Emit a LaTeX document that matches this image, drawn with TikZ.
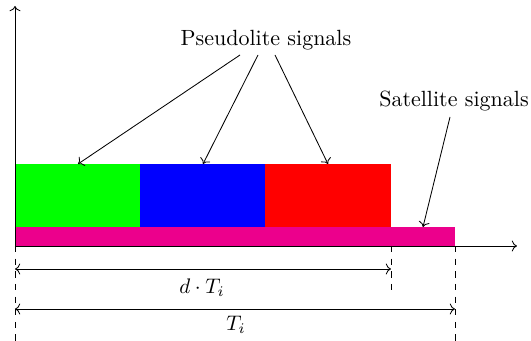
\documentclass[tikz,border=0pt]{standalone}
\usetikzlibrary{arrows.meta}
\definecolor{sigmag}{RGB}{236,0,140}
\definecolor{siggreen}{RGB}{0,255,0}
\definecolor{sigblue}{RGB}{0,0,255}
\definecolor{sigred}{RGB}{255,0,0}
\begin{document}
\begin{tikzpicture}[x=0.475pt,y=-0.475pt,
  blockbox/.style={anchor=north west,inner sep=0pt,outer sep=0pt,draw=none},
  lbl/.style={inner sep=1pt,font=\fontsize{10.45}{12.5}\selectfont},
  pointer/.style={-To,thin},
  dimline/.style={To-To,thin},
  guide/.style={dashed,thin}]
\useasboundingbox (0,0) rectangle (531,341);
% blocks
\node[blockbox,fill=siggreen,minimum width=125*0.475pt,minimum height=63*0.475pt] (g) at (15,164) {};
\node[blockbox,fill=sigblue,minimum width=125*0.475pt,minimum height=63*0.475pt] (b) at (140,164) {};
\node[blockbox,fill=sigred,minimum width=126*0.475pt,minimum height=63*0.475pt] (r) at (265,164) {};
\node[blockbox,fill=sigmag,minimum width=440*0.475pt,minimum height=19*0.475pt] (m) at (15,227) {};
% axes
\coordinate (o) at (15,246);
\coordinate (ytop) at (15,6);
\coordinate (xend) at (517,246);
\draw[pointer] (o) -- (ytop);
\draw[pointer] (o) -- (xend);
% guides
\coordinate (ga) at (15,341);
\coordinate (gb0) at (391,246);
\coordinate (gb) at (391,293);
\coordinate (gc0) at (455,246);
\coordinate (gc) at (455,341);
\draw[guide] (o) -- (ga);
\draw[guide] (gb0) -- (gb);
\draw[guide] (gc0) -- (gc);
% dimension arrows
\coordinate (d1a) at (15,269);
\coordinate (d1b) at (391,269);
\coordinate (d2a) at (15,309);
\coordinate (d2b) at (455,309);
\draw[dimline] (d1a) -- (d1b);
\draw[dimline] (d2a) -- (d2b);
\node[lbl] (dl) at (202,288) {$d\cdot T_i$};
\node[lbl] (tl) at (236,325) {$T_i$};
% labels
\node[lbl] (ps) at (266,40) {Pseudolite signals};
\node[lbl] (ss) at (454,101) {Satellite signals};
\coordinate (pg) at (78,164);
\coordinate (pb) at (203,164);
\coordinate (pr) at (328,164);
\coordinate (pm) at (423,227);
\draw[pointer] (240,55) -- (pg);
\draw[pointer] (258,55) -- (pb);
\draw[pointer] (275,55) -- (pr);
\draw[pointer] (450,117) -- (pm);
\end{tikzpicture}
\end{document}
